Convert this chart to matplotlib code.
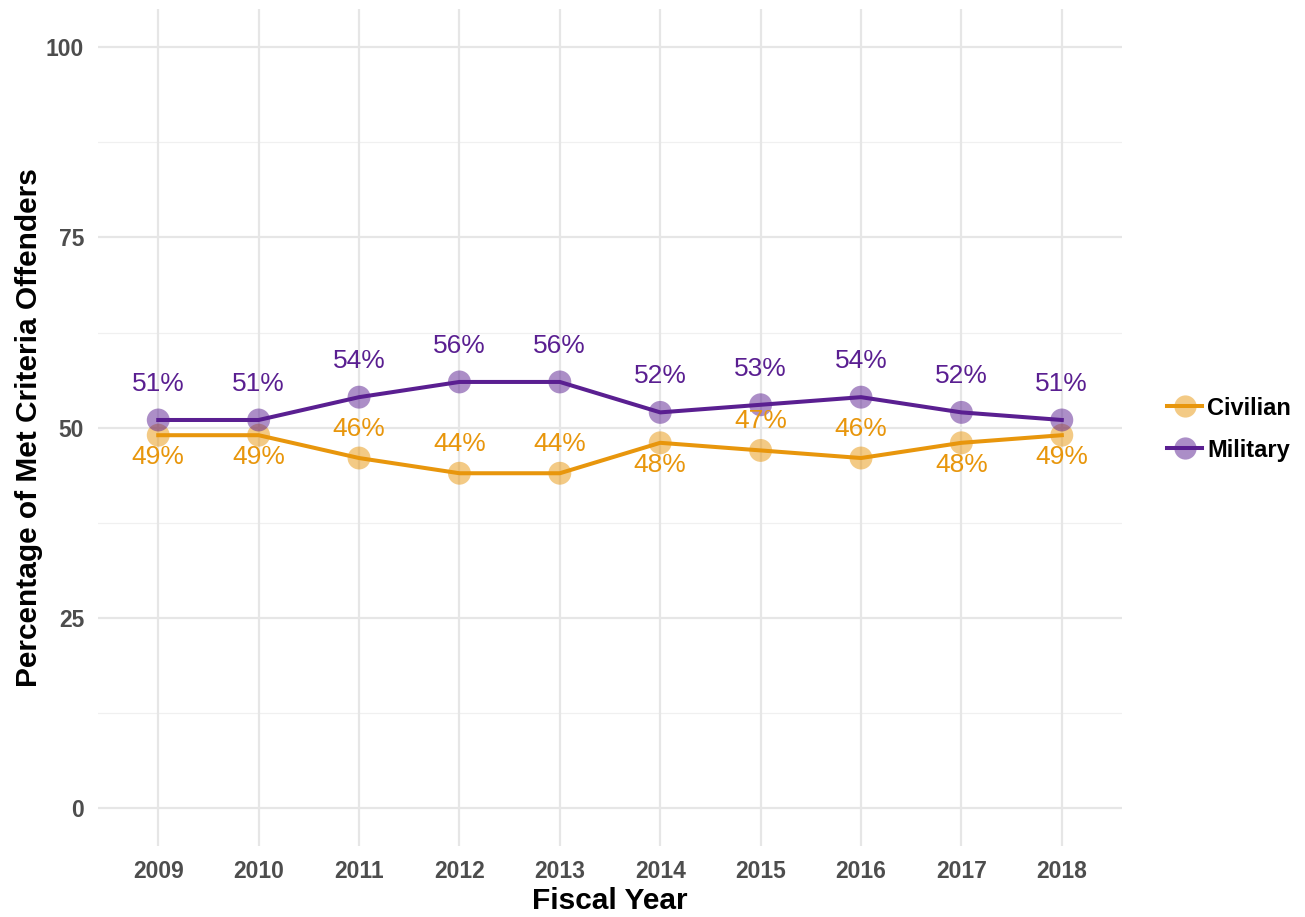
import matplotlib
matplotlib.use("Agg")
import matplotlib.pyplot as plt
from matplotlib.lines import Line2D
import numpy as np

plt.rcParams['font.family'] = ['Liberation Sans', 'DejaVu Sans']

years = [2009, 2010, 2011, 2012, 2013, 2014, 2015, 2016, 2017, 2018]
civilian = [49, 49, 46, 44, 44, 48, 47, 46, 48, 49]
military = [51, 51, 54, 56, 56, 52, 53, 54, 52, 51]
# label placement for civilian: 1 above, -1 below
civ_side = [-1, -1, 1, 1, 1, -1, 1, 1, -1, -1]

c_civ = '#E8960C'
c_mil = '#5A1F91'

fig = plt.figure(figsize=(13.05, 9.17), dpi=100)
ax = fig.add_axes([0.0751, 0.0774, 0.7847, 0.9126])

x = np.arange(len(years))
ax.set_xlim(-0.6, len(years) - 1 + 0.6)
ax.set_ylim(-5, 105)

# grid
for v in [12.5, 37.5, 62.5, 87.5]:
    ax.axhline(v, color='#F0F0F0', lw=0.9, zorder=0)
for v in [0, 25, 50, 75, 100]:
    ax.axhline(v, color='#E6E6E6', lw=1.6, zorder=0)
for xi in x:
    ax.axvline(xi, color='#E6E6E6', lw=1.6, zorder=0)

ax.plot(x, civilian, color=c_civ, lw=2.9, zorder=2)
ax.plot(x, military, color=c_mil, lw=2.9, zorder=2)
ax.scatter(x, civilian, s=16.5**2, color=c_civ, alpha=0.5, edgecolors='none', zorder=3)
ax.scatter(x, military, s=16.5**2, color=c_mil, alpha=0.5, edgecolors='none', zorder=3)

for xi, v in zip(x, military):
    ax.annotate(f"{v}%", (xi, v), xytext=(0, 26), textcoords='offset points',
                ha='center', va='center', fontsize=19, color=c_mil)
for xi, v, s in zip(x, civilian, civ_side):
    off = 21 if s > 0 else -16
    ax.annotate(f"{v}%", (xi, v), xytext=(0, off), textcoords='offset points',
                ha='center', va='center', fontsize=19, color=c_civ)

ax.set_xticks(x)
ax.set_xticklabels([str(y) for y in years])
ax.set_yticks([0, 25, 50, 75, 100])
ax.tick_params(length=0, labelsize=16.5, colors='#4D4D4D', pad=10)
for lab in ax.get_xticklabels() + ax.get_yticklabels():
    lab.set_fontweight('bold')
for sp in ax.spines.values():
    sp.set_visible(False)

ax.set_xlabel('Fiscal Year', fontsize=21.5, fontweight='bold', labelpad=3)
ax.set_ylabel('Percentage of Met Criteria Offenders', fontsize=21.5, fontweight='bold', labelpad=2)

handles = [
    Line2D([0], [0], color=c_civ, lw=2.9, marker='o', markersize=16,
           markerfacecolor=(0.91, 0.59, 0.05, 0.5), markeredgecolor='none'),
    Line2D([0], [0], color=c_mil, lw=2.9, marker='o', markersize=16,
           markerfacecolor=(0.35, 0.12, 0.57, 0.5), markeredgecolor='none'),
]
leg = fig.legend(handles, ['Civilian', 'Military'], loc='center left',
                 bbox_to_anchor=(0.878, 0.532), frameon=False, fontsize=17,
                 handlelength=1.5, handletextpad=0.2, labelspacing=0.8)
for t in leg.get_texts():
    t.set_fontweight('bold')

fig.savefig('out.png', dpi=100)
